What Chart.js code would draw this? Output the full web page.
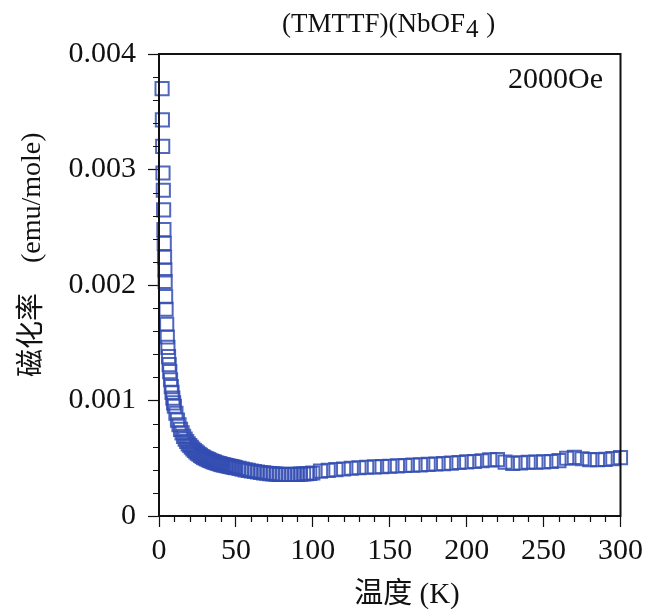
<!DOCTYPE html>
<html>
<head>
<meta charset="utf-8">
<script src="https://cdn.jsdelivr.net/npm/chart.js@4.4.0/dist/chart.umd.min.js"></script>
<style>
html, body { margin: 0; padding: 0; background: #fff; }
</style>
</head>
<body>
<canvas id="chi-chart" width="649" height="609"></canvas>
<script>
// temperature (K)
const temperatures = [
	2.0, 2.2, 2.4, 2.6, 2.8, 3.0, 3.2, 3.4, 3.6, 3.8,
	4.0, 4.3, 4.6, 5.0, 5.4, 5.8, 6.2, 6.6, 7.0, 7.5,
	8.0, 8.5, 9.0, 9.5, 10, 11, 12, 13, 14, 15,
	16, 17, 18, 19, 20, 21, 22, 23, 24, 25,
	26, 27, 28, 29, 30, 31, 32, 33, 34, 35,
	36, 37, 38, 39, 40, 41, 42, 43, 44, 45,
	46, 47, 48, 49, 50, 52, 54, 56, 58, 60,
	62, 64, 66, 68, 70, 72, 74, 76, 78, 80,
	82, 84, 86, 88, 90, 92, 94, 96, 98, 100,
	105, 110, 115, 120, 125, 130, 135, 140, 145, 150,
	155, 160, 165, 170, 175, 180, 185, 190, 195, 200,
	205, 210, 215, 220, 225, 230, 235, 240, 245, 250,
	255, 260, 265, 270, 275, 280, 285, 290, 295, 300
];
// magnetic susceptibility (emu/mole)
const susceptibility = [
	0.00370, 0.00343, 0.00320, 0.00297, 0.00282, 0.00265, 0.00248, 0.00236, 0.00224, 0.00213,
	0.00203, 0.00190, 0.00179, 0.00166, 0.00155, 0.00146, 0.00138, 0.00131, 0.00125, 0.00118,
	0.00112, 0.00107, 0.00102, 0.00098, 0.00095, 0.00089, 0.00083, 0.00079, 0.00075, 0.00072,
	0.000690, 0.000665, 0.000645, 0.000625, 0.000610, 0.000595, 0.000580, 0.000567, 0.000555, 0.000545,
	0.000535, 0.000525, 0.000515, 0.000507, 0.000500, 0.000494, 0.000488, 0.000482, 0.000476, 0.000471,
	0.000466, 0.000461, 0.000457, 0.000453, 0.000449, 0.000445, 0.000442, 0.000439, 0.000436, 0.000433,
	0.000430, 0.000427, 0.000424, 0.000421, 0.000418, 0.000412, 0.000406, 0.000400, 0.000395, 0.000390,
	0.000385, 0.000381, 0.000377, 0.000373, 0.000370, 0.000367, 0.000365, 0.000363, 0.000361, 0.000360,
	0.000359, 0.000359, 0.000359, 0.000360, 0.000361, 0.000362, 0.000364, 0.000366, 0.000368, 0.000372,
	0.000388, 0.000395, 0.000401, 0.000407, 0.000413, 0.000418, 0.000422, 0.000425, 0.000428, 0.000431,
	0.000434, 0.000437, 0.000440, 0.000443, 0.000447, 0.000450, 0.000454, 0.000458, 0.000463, 0.000468,
	0.000472, 0.000478, 0.000486, 0.000488, 0.000466, 0.000455, 0.000460, 0.000465, 0.000467, 0.000469,
	0.000472, 0.000480, 0.000500, 0.000508, 0.000496, 0.000488, 0.000487, 0.000490, 0.000497, 0.000505
];
const xTicks = [0, 50, 100, 150, 200, 250, 300];
const yTicks = [0, 0.001, 0.002, 0.003, 0.004];
const xMinorStep = 10;
const yMinorStep = 0.0002;

const serif = "'Liberation Serif', 'Times New Roman', serif";
const cjk = "'Noto Sans CJK SC', 'Noto Sans CJK JP', sans-serif";

const points = temperatures.map((t, i) => ({ x: t, y: susceptibility[i] }));

// minor ticks, frame and the free texts
const framePlugin = {
	id: 'frame',
	afterDraw: (chart) => {
		const ctx = chart.ctx;
		const a = chart.chartArea;
		const xs = chart.scales.x;
		const ys = chart.scales.y;
		ctx.save();
		ctx.strokeStyle = '#111';
		ctx.lineWidth = 1.2;
		ctx.beginPath();
		for (let t = xs.min; t <= xs.max + 1e-9; t += xMinorStep) {
			if (xTicks.includes(Math.round(t))) continue;
			let px = Math.round(xs.getPixelForValue(t)) + 0.5;
			ctx.moveTo(px, a.bottom);
			ctx.lineTo(px, a.bottom + 6);
		}
		for (let k = 0; k * yMinorStep <= ys.max + 1e-12; k++) {
			if (k % 5 === 0) continue;
			let py = Math.round(ys.getPixelForValue(k * yMinorStep)) + 0.5;
			ctx.moveTo(a.left, py);
			ctx.lineTo(a.left - 6, py);
		}
		ctx.stroke();

		ctx.lineWidth = 2;
		ctx.strokeRect(a.left, a.top, a.right - a.left, a.bottom - a.top);

		ctx.fillStyle = '#111';
		ctx.textBaseline = 'alphabetic';

		// title with subscript
		ctx.textAlign = 'left';
		ctx.font = '27px ' + serif;
		let part1 = '(TMTTF)(NbOF';
		let w1 = ctx.measureText(part1).width;
		ctx.fillText(part1, 282, 32);
		ctx.font = '25px ' + serif;
		let w2 = ctx.measureText('4').width;
		ctx.fillText('4', 282 + w1 + 1, 37);
		ctx.font = '27px ' + serif;
		ctx.fillText(' )', 282 + w1 + w2 + 2, 32);

		// field annotation
		ctx.textAlign = 'right';
		ctx.font = '30px ' + serif;
		ctx.fillText('2000Oe', 603, 88);

		// x title
		ctx.textAlign = 'center';
		ctx.font = '29px ' + serif + ', ' + cjk;
		ctx.fillText('温度 (K)', 407, 603);

		// y title
		ctx.translate(40, 377);
		ctx.rotate(-Math.PI / 2);
		ctx.textAlign = 'left';
		ctx.font = '28px ' + cjk;
		let wj = ctx.measureText('磁化率').width;
		ctx.fillText('磁化率', 0, 0);
		ctx.font = '28px ' + serif;
		ctx.fillText('(emu/mole)', wj + 30, 0);
		ctx.restore();
	}
};

const ctx = document.getElementById('chi-chart');
new Chart(ctx, {
	type: 'scatter',
	data: {
		datasets: [{
			data: points,
			clip: false,
			pointStyle: 'rect',
			pointRadius: 9.3,
			pointHoverRadius: 9.3,
			borderWidth: 2,
			borderColor: 'rgba(50, 76, 178, 0.85)',
			backgroundColor: 'rgba(0, 0, 0, 0)'
		}]
	},
	options: {
		responsive: false,
		animation: false,
		devicePixelRatio: 1,
		layout: { padding: { top: 54, right: 26, left: 0, bottom: 0 } },
		plugins: {
			legend: { display: false },
			tooltip: { enabled: false },
			title: { display: false }
		},
		scales: {
			x: {
				type: 'linear',
				min: 0,
				max: 300,
				afterFit: (scale) => { scale.height = 93; },
				afterBuildTicks: (scale) => { scale.ticks = xTicks.map(v => ({ value: v })); },
				ticks: {
					color: '#111',
					font: { family: serif, size: 30 },
					padding: 6,
					maxRotation: 0,
					callback: (v) => String(v)
				},
				grid: { drawOnChartArea: false, tickLength: 11, tickColor: '#111', tickWidth: 1.2 },
				border: { color: '#111', width: 2 }
			},
			y: {
				type: 'linear',
				min: 0,
				max: 0.004,
				afterFit: (scale) => { scale.width = 159; },
				afterBuildTicks: (scale) => { scale.ticks = yTicks.map(v => ({ value: v })); },
				ticks: {
					color: '#111',
					font: { family: serif, size: 30 },
					padding: 12,
					callback: (v) => (v === 0 ? '0' : v.toFixed(3))
				},
				grid: { drawOnChartArea: false, tickLength: 11, tickColor: '#111', tickWidth: 1.2 },
				border: { color: '#111', width: 2 }
			}
		}
	},
	plugins: [framePlugin]
});
</script>
</body>
</html>
